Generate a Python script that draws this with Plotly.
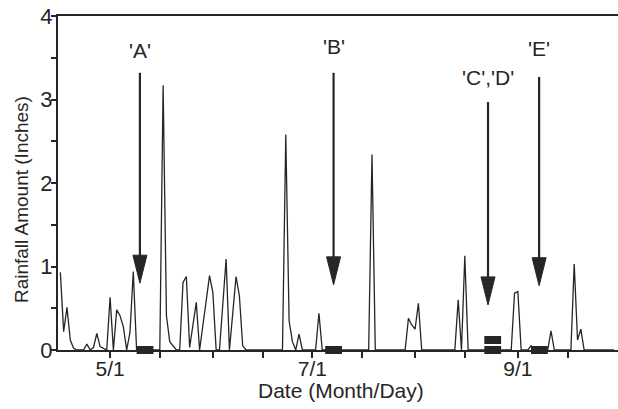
import pandas as pd
import plotly.graph_objects as go

# ---------------- data ----------------
start_date = "2001-04-16"
rainfall = [
    0.93, 0.22, 0.51, 0.12, 0.02, 0, 0, 0, 0.07, 0, 0.03, 0.20, 0.04, 0.02, 0,   # 4/16-4/30
    0.63, 0, 0.48, 0.41, 0.28, 0, 0.21, 0.94, 0, 0, 0, 0, 0, 0, 0,               # 5/1-5/15
    0, 3.17, 0.41, 0.10, 0.05, 0, 0, 0.81, 0.88, 0.03, 0.30, 0.57, 0, 0.30, 0.60, 0.89,  # 5/16-5/31
    0.69, 0, 0, 0.50, 1.09, 0, 0.45, 0.88, 0.65, 0.05, 0, 0, 0, 0, 0,            # 6/1-6/15
    0, 0, 0, 0, 0, 0, 0, 2.58, 0.35, 0.10, 0, 0.19, 0, 0, 0,                     # 6/16-6/30
    0, 0, 0.44, 0, 0, 0, 0, 0, 0, 0, 0, 0, 0, 0, 0,                              # 7/1-7/15
    0, 0, 0, 2.34, 0, 0, 0, 0, 0, 0, 0, 0, 0, 0, 0.38, 0.30,                     # 7/16-7/31
    0.25, 0.56, 0, 0, 0, 0, 0, 0, 0, 0, 0, 0, 0, 0.60, 0,                        # 8/1-8/15
    1.13, 0, 0, 0, 0, 0, 0, 0, 0, 0, 0, 0, 0, 0, 0, 0.68,                        # 8/16-8/31
    0.70, 0, 0, 0, 0.05, 0, 0, 0, 0, 0, 0.23, 0, 0, 0, 0,                        # 9/1-9/15
    0, 0, 1.03, 0.12, 0.25, 0, 0, 0, 0, 0, 0, 0, 0, 0, 0,                        # 9/16-9/30
]
rain_dates = pd.date_range(start_date, periods=len(rainfall), freq="D")

event_labels = ["'A'", "'B'", "'C','D'", "'E'"]
arrow_dates = ["2001-05-10 00:00", "2001-07-07 10:00", "2001-08-23 00:00", "2001-09-07 10:00"]
arrow_tops = [3.32, 3.32, 2.97, 3.27]
arrow_tips = [0.80, 0.78, 0.54, 0.77]
label_levels = [3.59, 3.63, 3.26, 3.61]

marker_dates = ["2001-05-11 13:00", "2001-07-07 10:00", "2001-08-24 10:00",
                "2001-08-24 10:00", "2001-09-07 12:00"]
marker_values = [0, 0, 0, 0.12, 0]

tick_dates = ["2001-04-15", "2001-05-01", "2001-05-16", "2001-06-01", "2001-06-16",
              "2001-07-01", "2001-07-16", "2001-08-01", "2001-08-16", "2001-09-01",
              "2001-09-16"]
tick_labels = ["", "5/1", "", "", "", "7/1", "", "", "", "9/1", ""]
y_ticks = [0, 1, 2, 3, 4]

x_range = ["2001-04-15 07:00", "2001-10-01 05:00"]
y_range = [0, 4]

# ---------------- figure ----------------
ink = "#262626"
fig = go.Figure()
fig.add_trace(go.Scatter(x=rain_dates, y=rainfall, mode="lines",
                         line=dict(color=ink, width=1.3),
                         showlegend=False, hoverinfo="x+y"))
fig.add_trace(go.Scatter(x=pd.to_datetime(marker_dates), y=marker_values, mode="markers",
                         marker=dict(symbol="line-ew", size=12, color=ink,
                                     line=dict(color=ink, width=8)),
                         cliponaxis=False, showlegend=False))

shapes = []
annotations = []
for lab, xd, top, tip, lev in zip(event_labels, arrow_dates, arrow_tops, arrow_tips, label_levels):
    shapes.append(dict(type="line", xref="x", yref="y", x0=xd, x1=xd, y0=top, y1=tip + 0.1,
                       line=dict(color=ink, width=2.2)))
    shapes.append(dict(type="path", xref="x", yref="y", xsizemode="pixel", ysizemode="pixel",
                       xanchor=xd, yanchor=tip, path="M-7,28 L7,28 L0,0 Z",
                       fillcolor=ink, line=dict(color=ink, width=1)))
    annotations.append(dict(x=xd, y=lev, xref="x", yref="y", text=lab, showarrow=False,
                            xanchor="center", yanchor="middle",
                            font=dict(size=21, color=ink)))

annotations.append(dict(text="Rainfall Amount (Inches)", xref="paper", yref="paper",
                        x=-0.066, y=0.449, xanchor="center", yanchor="middle",
                        textangle=-90, showarrow=False, font=dict(size=19, color=ink)))
annotations.append(dict(text="Date (Month/Day)", xref="paper", yref="paper",
                        x=0.505, y=-0.12, xanchor="center", yanchor="middle",
                        showarrow=False, font=dict(size=21, color=ink)))

fig.update_layout(
    width=618, height=409,
    margin=dict(l=58, r=0, t=16, b=59),
    paper_bgcolor="white", plot_bgcolor="white",
    font=dict(family="Liberation Sans, Arial, sans-serif", color=ink),
    shapes=shapes, annotations=annotations,
    xaxis=dict(type="date", range=x_range, tickvals=tick_dates, ticktext=tick_labels,
               ticks="outside", ticklen=6, tickwidth=1.5, tickcolor=ink,
               ticklabelstandoff=-7,
               showline=True, linecolor=ink, linewidth=2, mirror=True,
               showgrid=False, zeroline=False, tickfont=dict(size=21)),
    yaxis=dict(range=y_range, tickvals=y_ticks, ticks="outside", ticklen=5, tickwidth=1.5,
               tickcolor=ink, showline=True, linecolor=ink, linewidth=2,
               ticklabelstandoff=-6,
               showgrid=False, zeroline=False, tickfont=dict(size=22),
               minor=dict(dtick=0.5, ticks="outside", ticklen=5, tickwidth=1.5, tickcolor=ink)),
)

fig.write_html("out.html", config={"displayModeBar": False},
               post_script="document.body.style.margin='0px';document.body.style.overflow='hidden';")
